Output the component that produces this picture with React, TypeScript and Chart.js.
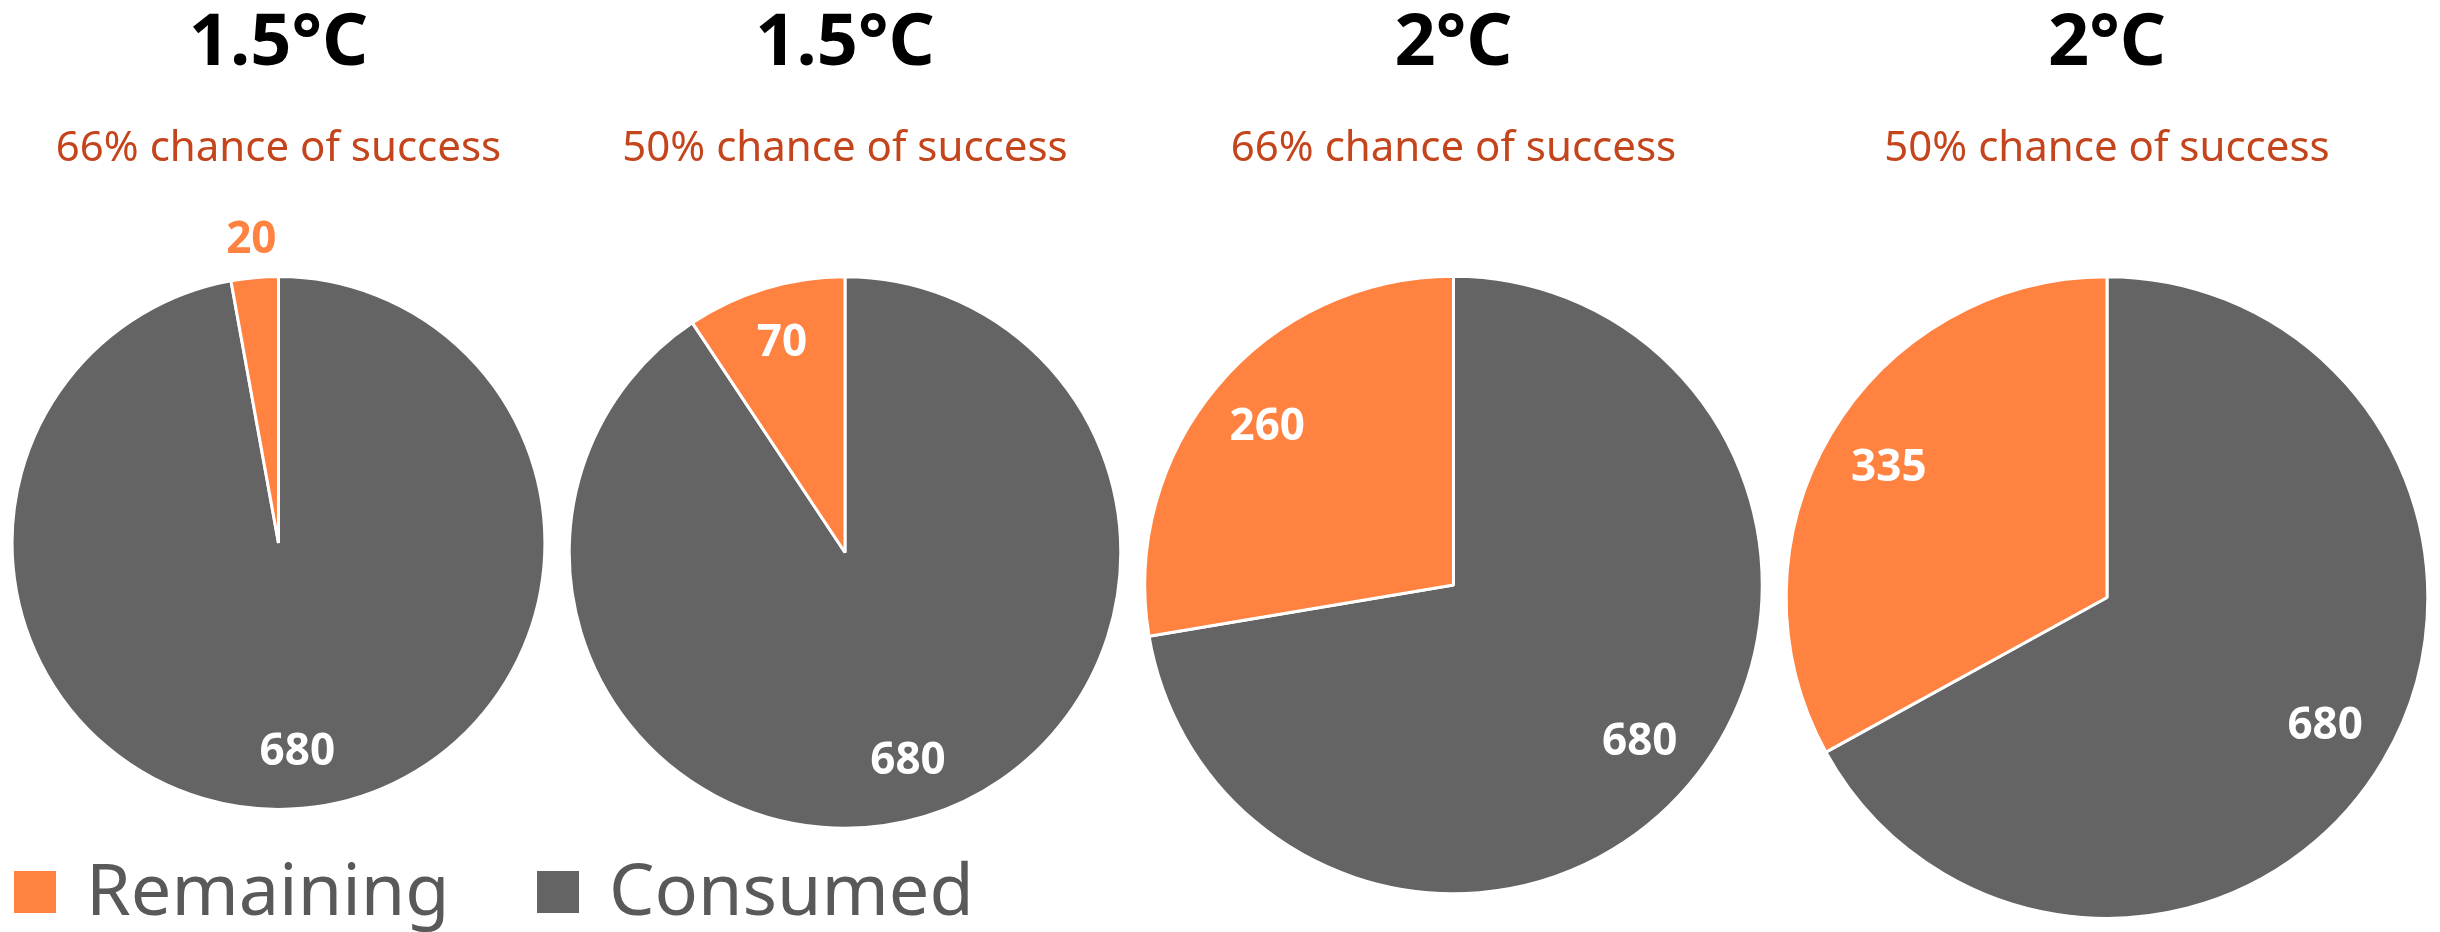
import { useEffect, useRef } from 'react';
import { Chart, registerables } from 'chart.js';

Chart.register(...registerables);

// Carbon budget scenarios (GtCO2)
const scenarioTitles = ['1.5°C', '1.5°C', '2°C', '2°C'];
const successChances = [
  '66% chance of success',
  '50% chance of success',
  '66% chance of success',
  '50% chance of success',
];
const seriesNames = ['Remaining', 'Consumed'];
const remainingBudget = [20, 70, 260, 335];
const consumedBudget = [680, 680, 680, 680];

const ORANGE = '#FF8241';
const GREY = '#646464';
const SUBTITLE_COLOR = '#C4441B';
const LEGEND_TEXT = '#595959';
const FONT = '"Noto Sans", "DejaVu Sans", sans-serif';

// Pie area is proportional to the total budget of each scenario.
const PX_PER_SQRT_UNIT = 10.07;
const HEAD_SPACE = 275;
const GAP = 21;
const BORDER = 3;

const radiusFor = (i: number) =>
  PX_PER_SQRT_UNIT * Math.sqrt(remainingBudget[i] + consumedBudget[i]);

const headingPlugin = {
  id: 'headings',
  afterDraw(chart: any, _args: any, opts: any) {
    const { ctx, chartArea } = chart;
    const cx = (chartArea.left + chartArea.right) / 2;
    ctx.save();
    ctx.textAlign = 'center';
    ctx.textBaseline = 'alphabetic';
    ctx.fillStyle = '#000000';
    ctx.font = `bold 72px ${FONT}`;
    ctx.fillText(opts.title, cx, 65);
    ctx.fillStyle = SUBTITLE_COLOR;
    ctx.font = `42px ${FONT}`;
    ctx.fillText(opts.subtitle, cx, 161);
    ctx.restore();
  },
};

// Value labels: inside the slice, or just outside for very thin slices.
const sliceLabelPlugin = {
  id: 'sliceLabels',
  afterDatasetsDraw(chart: any) {
    const { ctx } = chart;
    const meta = chart.getDatasetMeta(0);
    const ds = chart.data.datasets[0];
    ctx.save();
    ctx.font = `bold 44px ${FONT}`;
    ctx.textAlign = 'center';
    ctx.textBaseline = 'middle';
    meta.data.forEach((arc: any, i: number) => {
      const { x, y, startAngle, endAngle, outerRadius } = arc.getProps(
        ['x', 'y', 'startAngle', 'endAngle', 'outerRadius'],
        true
      );
      const mid = (startAngle + endAngle) / 2;
      const outside = endAngle - startAngle < 0.3;
      const dist = outside ? outerRadius + 37 : outerRadius * 0.79;
      ctx.fillStyle = outside ? ds.backgroundColor[i] : '#ffffff';
      ctx.fillText(String(ds.data[i]), x + Math.cos(mid) * dist, y + Math.sin(mid) * dist);
    });
    ctx.restore();
  },
};

function BudgetPie({ index }: { index: number }) {
  const ref = useRef<HTMLCanvasElement | null>(null);
  const r = radiusFor(index);
  const width = Math.round(2 * r + GAP + BORDER);
  const height = Math.round(HEAD_SPACE + 2 * r + BORDER);

  useEffect(() => {
    if (!ref.current) return;
    const chart = new Chart(ref.current, {
      type: 'pie',
      data: {
        labels: [seriesNames[1], seriesNames[0]],
        datasets: [
          {
            data: [consumedBudget[index], remainingBudget[index]],
            backgroundColor: [GREY, ORANGE],
            borderColor: '#ffffff',
            borderWidth: BORDER,
            hoverOffset: 0,
            radius: r,
          },
        ],
      },
      options: {
        responsive: false,
        animation: false,
        events: [],
        layout: {
          padding: { top: HEAD_SPACE, left: GAP / 2, right: GAP / 2, bottom: 0 },
        },
        plugins: {
          legend: { display: false },
          tooltip: { enabled: false },
          headings: { title: scenarioTitles[index], subtitle: successChances[index] },
        } as any,
      },
      plugins: [headingPlugin, sliceLabelPlugin],
    });
    return () => chart.destroy();
  }, [index, r]);

  return <canvas ref={ref} width={width} height={height} style={{ display: 'block', width, height }} />;
}

function LegendItem({ left, color, text }: { left: number; color: string; text: string }) {
  return (
    <div style={{ position: 'absolute', left, top: 851, display: 'flex', alignItems: 'flex-start' }}>
      <div style={{ width: 42, height: 42, background: color, marginTop: 20 }} />
      <span
        style={{
          marginLeft: 30,
          font: `72px ${FONT}`,
          lineHeight: '72px',
          color: LEGEND_TEXT,
          whiteSpace: 'nowrap',
        }}
      >
        {text}
      </span>
    </div>
  );
}

export default function App() {
  return (
    <div
      style={{
        position: 'absolute',
        left: 0,
        top: 0,
        width: 2440,
        height: 932,
        background: '#ffffff',
        overflow: 'hidden',
      }}
    >
      <div style={{ display: 'flex', alignItems: 'flex-start' }}>
        {scenarioTitles.map((_, i) => (
          <BudgetPie key={i} index={i} />
        ))}
      </div>
      <LegendItem left={14} color={ORANGE} text={seriesNames[0]} />
      <LegendItem left={537} color={GREY} text={seriesNames[1]} />
    </div>
  );
}
